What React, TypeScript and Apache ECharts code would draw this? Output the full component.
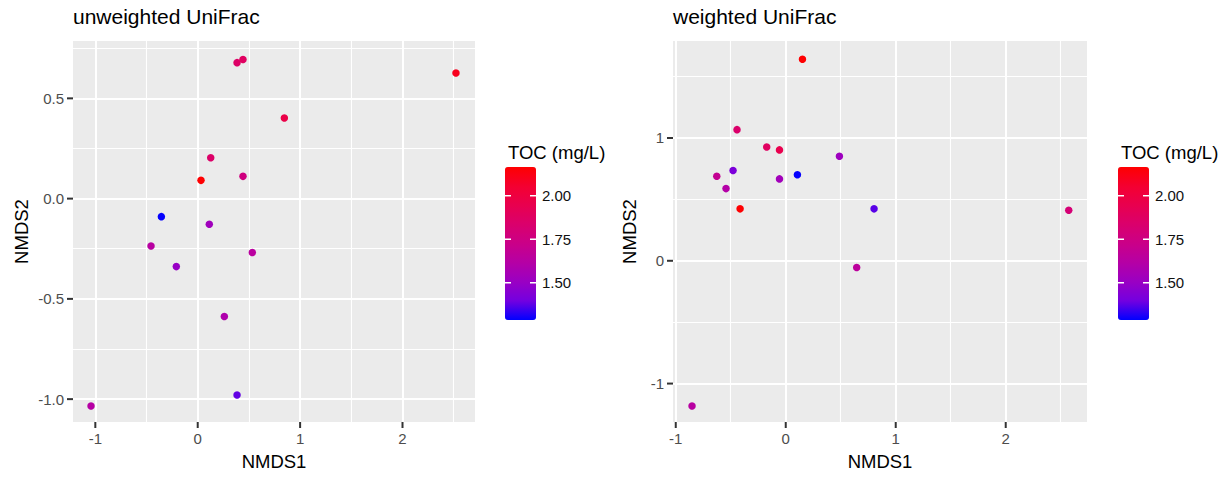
import React, { useEffect, useRef } from "react";
import * as echarts from "echarts";

// ---- data ----
const uwX = [0.384, 0.442, 2.522, 0.846, 0.127, 0.032, 0.442, -0.355, 0.113, -0.456, 0.533, -0.209, 0.26, 0.384, -1.042];
const uwY = [0.678, 0.694, 0.626, 0.402, 0.204, 0.091, 0.111, -0.09, -0.128, -0.236, -0.269, -0.339, -0.588, -0.979, -1.034];
const uwTOC = [1.86, 1.88, 2.1, 1.97, 1.85, 2.16, 1.76, 1.29, 1.53, 1.63, 1.64, 1.5, 1.59, 1.38, 1.62];

const wX = [0.152, -0.443, -0.173, -0.057, 0.488, -0.627, -0.479, -0.543, -0.057, 0.106, -0.415, 0.803, 2.573, 0.645, -0.852];
const wY = [1.641, 1.068, 0.927, 0.903, 0.851, 0.688, 0.735, 0.588, 0.667, 0.7, 0.423, 0.423, 0.412, -0.055, -1.182];
const wTOC = [2.16, 1.84, 1.88, 1.95, 1.52, 1.69, 1.42, 1.61, 1.54, 1.29, 2.16, 1.37, 1.8, 1.65, 1.63];

const xMajorTicks = [-1, 0, 1, 2];
const xMinorTicks = [-0.5, 0.5, 1.5, 2.5];
const uwYMajorTicks = [-1, -0.5, 0, 0.5];
const uwYMinorTicks = [-0.75, -0.25, 0.25, 0.75];
const wYMajorTicks = [-1, 0, 1];
const wYMinorTicks = [-0.5, 0.5, 1.5];
const legendBreaks = [1.5, 1.75, 2.0];
const tocMin = 1.286;
const tocMax = 2.165;

const titles = ["unweighted UniFrac", "weighted UniFrac"];
const xName = "NMDS1";
const yName = "NMDS2";
const legendTitle = "TOC (mg/L)";

// ggplot-like Lab gradient from blue to red
const gradient = ["#0000FF", "#7300E0", "#9A00C3", "#B500A5", "#CA0088", "#DA006C", "#E8004F", "#F40031", "#FF0000"];

const FONT = "'Liberation Sans', Arial, sans-serif";
const HIDDEN_LINE = { show: true, onZero: false, lineStyle: { color: "rgba(0,0,0,0)", width: 0 } };

export default function App() {
  const ref = useRef<HTMLDivElement>(null);

  useEffect(() => {
    document.body.style.margin = "0";
    const chart = echarts.init(ref.current!, null, { renderer: "svg" });

    const grids = [
      { left: 73, top: 41, width: 402, height: 381 },
      { left: 673, top: 41, width: 414, height: 381 },
    ];
    const xRanges = [
      [-1.218, 2.708],
      [-1.025, 2.739],
    ];
    const yRanges = [
      [-1.114, 0.786],
      [-1.313, 1.79],
    ];
    const yMajor = [uwYMajorTicks, wYMajorTicks];
    const yMinor = [uwYMinorTicks, wYMinorTicks];
    const yFmt = [(v: number) => v.toFixed(1), (v: number) => String(Math.round(v))];

    const xAxis: any[] = [];
    const yAxis: any[] = [];
    [0, 1].forEach((g) => {
      xAxis.push({
        type: "value",
        gridIndex: g,
        position: "bottom",
        min: xRanges[g][0],
        max: xRanges[g][1],
        name: xName,
        nameLocation: "middle",
        nameGap: 30,
        nameTextStyle: { fontFamily: FONT, fontSize: 18.5, color: "#000" },
        axisLine: HIDDEN_LINE,
        axisTick: { show: false, customValues: xMajorTicks },
        axisLabel: { customValues: xMajorTicks, margin: 9, fontFamily: FONT, fontSize: 15, color: "#4D4D4D", formatter: (v: number) => String(Math.round(v)) },
        splitLine: { show: true, lineStyle: { color: "#FFFFFF", width: 2 } },
        z: 1,
      });
      xAxis.push({
        type: "value",
        gridIndex: g,
        position: "bottom",
        min: xRanges[g][0],
        max: xRanges[g][1],
        axisLine: { show: false, onZero: false },
        axisTick: { show: false, customValues: xMinorTicks },
        axisLabel: { show: false, customValues: xMinorTicks },
        splitLine: { show: true, lineStyle: { color: "#FFFFFF", width: 1.1 } },
        z: 0,
      });
      yAxis.push({
        type: "value",
        gridIndex: g,
        position: "left",
        min: yRanges[g][0],
        max: yRanges[g][1],
        name: yName,
        nameLocation: "middle",
        nameGap: g === 0 ? 42 : 34,
        nameRotate: 90,
        nameTextStyle: { fontFamily: FONT, fontSize: 18.5, color: "#000" },
        axisLine: HIDDEN_LINE,
        axisTick: { show: false, customValues: yMajor[g] },
        axisLabel: { customValues: yMajor[g], margin: 9, fontFamily: FONT, fontSize: 15, color: "#4D4D4D", formatter: yFmt[g] },
        splitLine: { show: true, lineStyle: { color: "#FFFFFF", width: 2 } },
        z: 1,
      });
      yAxis.push({
        type: "value",
        gridIndex: g,
        position: "left",
        min: yRanges[g][0],
        max: yRanges[g][1],
        axisLine: { show: false, onZero: false },
        axisTick: { show: false, customValues: yMinor[g] },
        axisLabel: { show: false, customValues: yMinor[g] },
        splitLine: { show: true, lineStyle: { color: "#FFFFFF", width: 1.1 } },
        z: 0,
      });
    });

    const legendLefts = [505, 1118];
    const barTop = 167;
    const barH = 153;
    const barW = 31;
    const legendY = (v: number) => barTop + ((tocMax - v) / (tocMax - tocMin)) * barH;

    const graphic: any[] = [];
    legendLefts.forEach((lx) => {
      graphic.push({
        type: "text",
        left: lx + 3,
        top: 143,
        style: { text: legendTitle, fontFamily: FONT, fontSize: 18.5, fill: "#000" },
        z: 10,
      });
      legendBreaks.forEach((b) => {
        const y = legendY(b);
        graphic.push({ type: "line", shape: { x1: lx, y1: y, x2: lx + 6, y2: y }, style: { stroke: "#FFFFFF", lineWidth: 1.5 }, z: 10 });
        graphic.push({ type: "line", shape: { x1: lx + barW - 6, y1: y, x2: lx + barW, y2: y }, style: { stroke: "#FFFFFF", lineWidth: 1.5 }, z: 10 });
        graphic.push({
          type: "text",
          x: lx + barW + 6,
          y: y,
          style: { text: b.toFixed(2), fontFamily: FONT, fontSize: 15, fill: "#111", verticalAlign: "middle", align: "left" },
          z: 10,
        });
      });
    });

    const mkData = (xs: number[], ys: number[], cs: number[]) => xs.map((x, i) => [x, ys[i], cs[i]]);

    chart.setOption({
      animation: false,
      backgroundColor: "#FFFFFF",
      title: titles.map((t, i) => ({
        text: t,
        left: grids[i].left,
        top: 6,
        padding: 0,
        textStyle: { fontFamily: FONT, fontSize: 21, fontWeight: "normal", color: "#000" },
      })),
      grid: grids.map((g) => ({ ...g, show: true, backgroundColor: "#EBEBEB", borderWidth: 0, containLabel: false })),
      xAxis,
      yAxis,
      visualMap: legendLefts.map((lx, i) => ({
        type: "continuous",
        seriesIndex: i,
        dimension: 2,
        min: tocMin,
        max: tocMax,
        calculable: false,
        hoverLink: false,
        text: null,
        left: lx,
        top: barTop,
        padding: 0,
        itemWidth: barW,
        itemHeight: barH,
        inRange: { color: gradient },
      })),
      graphic,
      series: [
        {
          type: "scatter",
          xAxisIndex: 0,
          yAxisIndex: 0,
          symbolSize: 7.5,
          itemStyle: { opacity: 1 },
          data: mkData(uwX, uwY, uwTOC),
          z: 5,
        },
        {
          type: "scatter",
          xAxisIndex: 2,
          yAxisIndex: 2,
          symbolSize: 7.5,
          itemStyle: { opacity: 1 },
          data: mkData(wX, wY, wTOC),
          z: 5,
        },
      ],
    });

    // axis tick marks placed through the axes' own scales
    const tickEls: any[] = [];
    const tickStyle = { stroke: "#333333", lineWidth: 2 };
    [0, 1].forEach((g) => {
      const gr = grids[g];
      const bottom = gr.top + gr.height;
      xMajorTicks.forEach((v) => {
        const px = chart.convertToPixel({ xAxisIndex: g * 2 }, v) as number;
        tickEls.push({ type: "line", shape: { x1: px, y1: bottom, x2: px, y2: bottom + 6 }, style: tickStyle, z: 10 });
      });
      yMajor[g].forEach((v) => {
        const py = chart.convertToPixel({ yAxisIndex: g * 2 }, v) as number;
        tickEls.push({ type: "line", shape: { x1: gr.left - 6, y1: py, x2: gr.left, y2: py }, style: tickStyle, z: 10 });
      });
    });
    chart.setOption({ graphic: [...graphic, ...tickEls] });

    return () => chart.dispose();
  }, []);

  return <div ref={ref} style={{ position: "fixed", left: 0, top: 0, width: 1232, height: 479 }} />;
}
